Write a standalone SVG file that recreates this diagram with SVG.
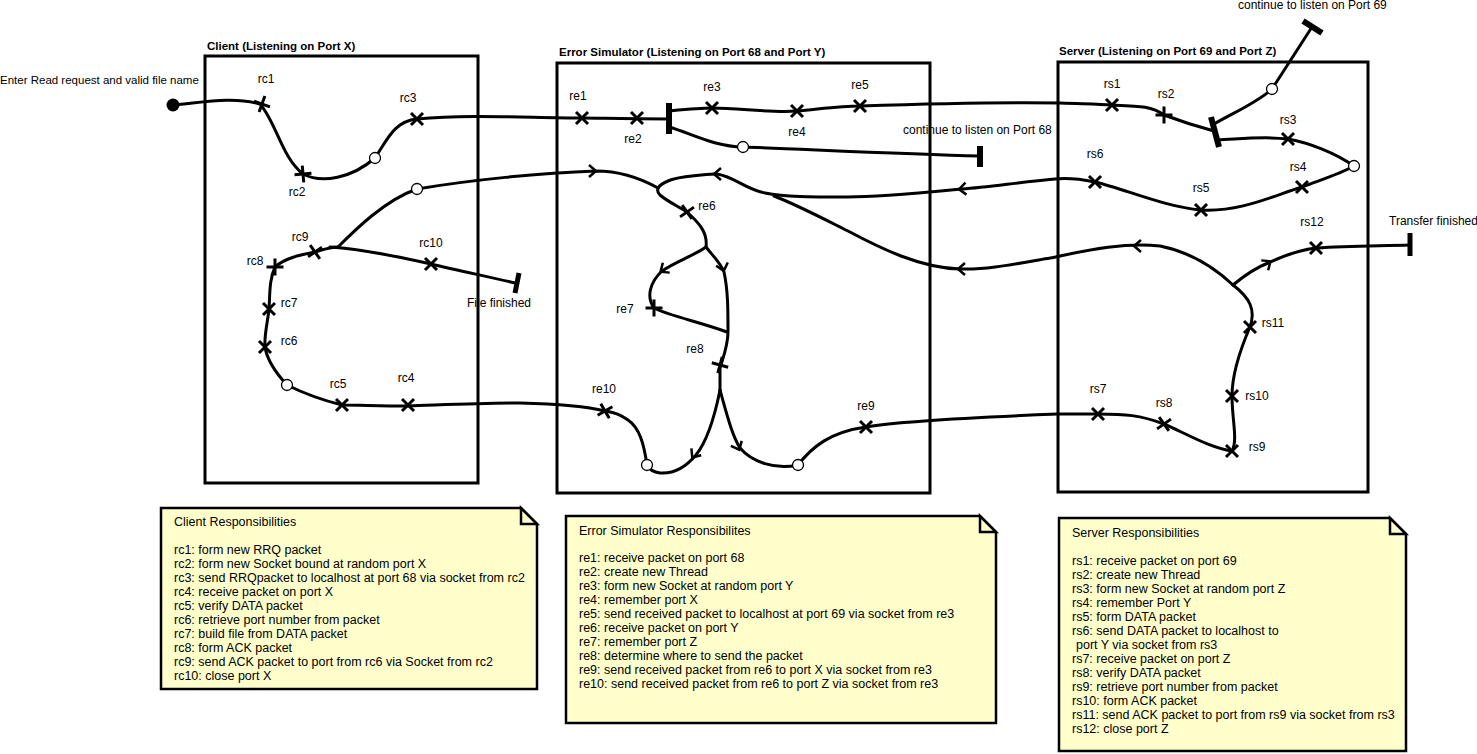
<svg xmlns="http://www.w3.org/2000/svg" width="1477" height="754" viewBox="0 0 1477 754">
<style>
.box{fill:none;stroke:#000;stroke-width:3}
.title{font-family:"Liberation Sans",Arial,sans-serif;font-weight:bold;font-size:11.5px;fill:#000}
.lbl{font-family:"Liberation Sans",Arial,sans-serif;font-size:12px;fill:#000}
.c{text-anchor:middle}
.note{fill:#ffffcc;stroke:#000;stroke-width:2.5}
.fold{fill:#ffffcc;stroke:#000;stroke-width:2.5}
.nt{font-family:"Liberation Sans",Arial,sans-serif;font-size:12.5px;fill:#000}
.ln{fill:none;stroke:#000;stroke-width:3;stroke-linecap:round;stroke-linejoin:round}
.mk{fill:none;stroke:#000;stroke-width:3}
.bar{stroke:#000;stroke-width:6}
.circ{fill:#fff;stroke:#000;stroke-width:1.3}
.arr{fill:none;stroke:#000;stroke-width:2.5}
</style>
<defs>
<path id="xm" d="M-6,-6L6,6M-6,6L6,-6"/>
<path id="ch" d="M-4,-6L3,0L-4,6"/>
</defs>

<g id="client">
<rect class="box" x="205" y="56" width="273" height="427"/>
<text class="title" x="207" y="50">Client (Listening on Port X)</text>
</g>
<g id="errorsim">
<rect class="box" x="557" y="63" width="373" height="430"/>
<text class="title" x="559" y="56">Error Simulator (Listening on Port 68 and Port Y)</text>
</g>
<g id="server">
<rect class="box" x="1058" y="62" width="310" height="430"/>
<text class="title" x="1059" y="55">Server (Listening on Port 69 and Port Z)</text>
</g>

<g id="connectors">
<path class="ln" d="M173,105 C200,103 232,96 260,104 C276,122 282,158 303,174 C322,184 352,178 375,158 C388,138 395,121 417,119 C470,114 530,118 582,118 C600,118 620,119 669,119"/>
<path class="ln" d="M669,111 C690,109 700,108 712,108 C740,108 770,113 797,111 C820,109 840,106 860,106 C920,104 1000,102 1060,103 C1090,104 1100,104 1112,105 C1140,106 1152,106 1164,115 C1180,121 1195,126 1214,131"/>
<path class="ln" d="M669,127 C690,133 715,147 743,147 C800,149 900,154 980,156"/>
<path class="ln" d="M1214,124 C1235,112 1258,102 1272,89 L1312,27"/>
<path class="ln" d="M1217,140 C1240,139 1265,136 1288,139 C1310,143 1335,153 1354,166 C1340,174 1320,180 1302,187 C1270,197 1240,212 1201,210 C1165,207 1125,189 1095,182 C1080,179 1065,178 1055,179 C1020,182 990,187 962,189 C930,192 880,197 848,197 C810,197 785,197 765,193 C745,189 735,177 717,174 C700,175 680,176 668,181 C658,185 655,190 660,195 C668,202 678,206 687,212 C698,222 708,232 706,247"/>
<path class="ln" d="M706,247 C712,255 720,262 724,272 C728,290 728,310 728,332 C728,345 724,355 720,368 L720,390"/>
<path class="ln" d="M706,247 C695,255 675,262 662,271 C650,282 646,297 654,308 C670,316 700,322 727,332"/>
<path class="ln" d="M720,390 C715,415 708,440 696,455 C685,468 672,474 660,473 C652,472 649,469 647,465 C644,445 640,428 628,420 C620,414 612,412 605,411 C585,406 560,404 520,403 C480,403 440,405 408,406 C380,406 360,405 342,405 C322,400 305,394 287,385 C275,372 267,360 265,347 C264,335 268,320 269,309 C270,295 269,280 275,267 C285,258 300,255 315,252 C322,250 330,247 338,247"/>
<path class="ln" d="M330,247 C360,249 400,257 431,264 C460,271 490,277 515,283"/>
<path class="ln" d="M338,247 C355,230 385,200 417,189 C470,180 540,173 596,171 C620,171 640,178 658,188"/>
<path class="ln" d="M720,390 C727,415 732,435 740,448 C752,462 775,470 798,465 C812,447 830,432 866,427 C900,421 980,417 1058,414 L1098,414 C1125,414 1140,415 1164,424 C1185,433 1210,448 1232,451 C1238,440 1232,420 1232,396 C1232,375 1240,350 1250,327 C1256,310 1250,298 1233,285"/>
<path class="ln" d="M1233,285 C1245,275 1255,268 1268,263 C1285,255 1300,250 1316,248 C1350,246 1380,246 1410,245"/>
<path class="ln" d="M1233,285 C1215,268 1190,252 1160,246 C1120,242 1080,252 1050,258 C1010,265 985,270 960,269 C920,268 880,248 848,231 C820,217 795,204 774,196"/>
<use href="#ch" class="arr" transform="translate(593,171)"/>
<use href="#ch" class="arr" transform="translate(717,174) rotate(180)"/>
<use href="#ch" class="arr" transform="translate(962,189) rotate(175)"/>
<use href="#ch" class="arr" transform="translate(961,269) rotate(180)"/>
<use href="#ch" class="arr" transform="translate(1137,246) rotate(180)"/>
<use href="#ch" class="arr" transform="translate(1268,263) rotate(-35)"/>
<use href="#ch" class="arr" transform="translate(663,270) rotate(145)"/>
<use href="#ch" class="arr" transform="translate(723,268) rotate(75)"/>
<use href="#ch" class="arr" transform="translate(694,455) rotate(125)"/>
<use href="#ch" class="arr" transform="translate(738,447) rotate(65)"/>
</g>

<g id="start"><circle cx="173" cy="105" r="6.5" fill="#000"/><text class="lbl" x="0" y="84" style="font-size:11.5px">Enter Read request and valid file name</text></g>
<g id="es-fork"><line class="bar" x1="669" y1="103" x2="669" y2="134"/></g>
<g id="es-end"><line class="bar" x1="980" y1="146" x2="980" y2="167"/><text class="lbl" x="903" y="134">continue to listen on Port 68</text></g>
<g id="server-fork"><line class="bar" x1="1211" y1="117" x2="1219" y2="147"/></g>
<g id="server-end69"><line class="bar" x1="1303" y1="21" x2="1322" y2="33"/><text class="lbl" x="1238" y="9">continue to listen on Port 69</text></g>
<g id="client-end"><line class="bar" x1="519" y1="273" x2="515" y2="293" style="stroke-width:5"/><text class="lbl c" x="499" y="307">File finished</text></g>
<g id="server-end"><line class="bar" x1="1410" y1="233" x2="1410" y2="256" style="stroke-width:5"/><text class="lbl" x="1389" y="225">Transfer finished</text></g>

<g id="merges">
<circle class="circ" cx="375" cy="158" r="5.5"/>
<circle class="circ" cx="743" cy="147" r="5.5"/>
<circle class="circ" cx="1272" cy="89" r="5.5"/>
<circle class="circ" cx="1354" cy="166" r="5.5"/>
<circle class="circ" cx="417" cy="189" r="5.5"/>
<circle class="circ" cx="287" cy="385" r="5.5"/>
<circle class="circ" cx="647" cy="465" r="5.5"/>
<circle class="circ" cx="798" cy="465" r="5.5"/>
</g>

<g id="rc1"><use href="#xm" class="mk" transform="translate(262,104) rotate(65)"/><text class="lbl c" x="266" y="83">rc1</text></g>
<g id="rc2"><use href="#xm" class="mk" transform="translate(303,174) rotate(40)"/><text class="lbl c" x="297" y="196">rc2</text></g>
<g id="rc3"><use href="#xm" class="mk" transform="translate(417,119)"/><text class="lbl c" x="408" y="102">rc3</text></g>
<g id="rc4"><use href="#xm" class="mk" transform="translate(408,405)"/><text class="lbl c" x="406" y="382">rc4</text></g>
<g id="rc5"><use href="#xm" class="mk" transform="translate(342,405)"/><text class="lbl c" x="338" y="388">rc5</text></g>
<g id="rc6"><use href="#xm" class="mk" transform="translate(265,347)"/><text class="lbl c" x="289" y="345">rc6</text></g>
<g id="rc7"><use href="#xm" class="mk" transform="translate(269,309)"/><text class="lbl c" x="289" y="307">rc7</text></g>
<g id="rc8"><use href="#xm" class="mk" transform="translate(275,267) rotate(45)"/><text class="lbl c" x="255" y="265">rc8</text></g>
<g id="rc9"><use href="#xm" class="mk" transform="translate(315,252) rotate(10)"/><text class="lbl c" x="300" y="241">rc9</text></g>
<g id="rc10"><use href="#xm" class="mk" transform="translate(431,264)"/><text class="lbl c" x="431" y="247">rc10</text></g>

<g id="re1"><use href="#xm" class="mk" transform="translate(582,118)"/><text class="lbl c" x="578" y="100">re1</text></g>
<g id="re2"><use href="#xm" class="mk" transform="translate(637,118)"/><text class="lbl c" x="633" y="143">re2</text></g>
<g id="re3"><use href="#xm" class="mk" transform="translate(712,108)"/><text class="lbl c" x="712" y="91">re3</text></g>
<g id="re4"><use href="#xm" class="mk" transform="translate(797,111)"/><text class="lbl c" x="797" y="136">re4</text></g>
<g id="re5"><use href="#xm" class="mk" transform="translate(860,106)"/><text class="lbl c" x="860" y="89">re5</text></g>
<g id="re6"><use href="#xm" class="mk" transform="translate(687,212) rotate(10)"/><text class="lbl c" x="707" y="210">re6</text></g>
<g id="re7"><use href="#xm" class="mk" transform="translate(654,308) rotate(45)"/><text class="lbl c" x="625" y="313">re7</text></g>
<g id="re8"><use href="#xm" class="mk" transform="translate(720,365) rotate(60)"/><text class="lbl c" x="695" y="353">re8</text></g>
<g id="re9"><use href="#xm" class="mk" transform="translate(866,427)"/><text class="lbl c" x="866" y="410">re9</text></g>
<g id="re10"><use href="#xm" class="mk" transform="translate(605,411) rotate(15)"/><text class="lbl c" x="604" y="393">re10</text></g>

<g id="rs1"><use href="#xm" class="mk" transform="translate(1112,105)"/><text class="lbl c" x="1112" y="88">rs1</text></g>
<g id="rs2"><use href="#xm" class="mk" transform="translate(1164,115) rotate(45)"/><text class="lbl c" x="1166" y="98">rs2</text></g>
<g id="rs3"><use href="#xm" class="mk" transform="translate(1288,139)"/><text class="lbl c" x="1288" y="124">rs3</text></g>
<g id="rs4"><use href="#xm" class="mk" transform="translate(1302,187)"/><text class="lbl c" x="1298" y="171">rs4</text></g>
<g id="rs5"><use href="#xm" class="mk" transform="translate(1201,210)"/><text class="lbl c" x="1201" y="192">rs5</text></g>
<g id="rs6"><use href="#xm" class="mk" transform="translate(1095,182)"/><text class="lbl c" x="1095" y="158">rs6</text></g>
<g id="rs7"><use href="#xm" class="mk" transform="translate(1098,414)"/><text class="lbl c" x="1098" y="393">rs7</text></g>
<g id="rs8"><use href="#xm" class="mk" transform="translate(1164,424) rotate(10)"/><text class="lbl c" x="1164" y="407">rs8</text></g>
<g id="rs9"><use href="#xm" class="mk" transform="translate(1232,451)"/><text class="lbl c" x="1257" y="451">rs9</text></g>
<g id="rs10"><use href="#xm" class="mk" transform="translate(1232,396)"/><text class="lbl c" x="1257" y="400">rs10</text></g>
<g id="rs11"><use href="#xm" class="mk" transform="translate(1250,327)"/><text class="lbl c" x="1273" y="327">rs11</text></g>
<g id="rs12"><use href="#xm" class="mk" transform="translate(1316,248)"/><text class="lbl c" x="1312" y="226">rs12</text></g>

<g id="note-client">
<path class="note" d="M161,508 H521 L537,524 V689 H161 Z"/>
<path class="fold" d="M521,508 V524 H537 Z"/>
<text class="nt" x="174" y="526">Client Responsibilities</text>
<text class="nt" x="174" y="553.5">
<tspan x="174" dy="0">rc1: form new RRQ packet</tspan>
<tspan x="174" dy="14">rc2: form new Socket bound at random port X</tspan>
<tspan x="174" dy="14">rc3: send RRQpacket to localhost at port 68 via socket from rc2</tspan>
<tspan x="174" dy="14">rc4: receive packet on port X</tspan>
<tspan x="174" dy="14">rc5: verify DATA packet</tspan>
<tspan x="174" dy="14">rc6: retrieve port number from packet</tspan>
<tspan x="174" dy="14">rc7: build file from DATA packet</tspan>
<tspan x="174" dy="14">rc8: form ACK packet</tspan>
<tspan x="174" dy="14">rc9: send ACK packet to port from rc6 via Socket from rc2</tspan>
<tspan x="174" dy="14">rc10: close port X</tspan>
</text>
</g>

<g id="note-errorsim">
<path class="note" d="M566,516 H980 L996,532 V723 H566 Z"/>
<path class="fold" d="M980,516 V532 H996 Z"/>
<text class="nt" x="579" y="534.5">Error Simulator Responsibilites</text>
<text class="nt" x="579" y="562">
<tspan x="579" dy="0">re1: receive packet on port 68</tspan>
<tspan x="579" dy="14">re2: create new Thread</tspan>
<tspan x="579" dy="14">re3: form new Socket at random port Y</tspan>
<tspan x="579" dy="14">re4: remember port X</tspan>
<tspan x="579" dy="14">re5: send received packet to localhost at port 69 via socket from re3</tspan>
<tspan x="579" dy="14">re6: receive packet on port Y</tspan>
<tspan x="579" dy="14">re7: remember port Z</tspan>
<tspan x="579" dy="14">re8: determine where to send the packet</tspan>
<tspan x="579" dy="14">re9: send received packet from re6 to port X via socket from re3</tspan>
<tspan x="579" dy="14">re10: send received packet from re6 to port Z via socket from re3</tspan>
</text>
</g>

<g id="note-server">
<path class="note" d="M1059,518 H1390 L1406,534 V751 H1059 Z"/>
<path class="fold" d="M1390,518 V534 H1406 Z"/>
<text class="nt" x="1072" y="537">Server Responsibilities</text>
<text class="nt" x="1072" y="564.5">
<tspan x="1072" dy="0">rs1: receive packet on port 69</tspan>
<tspan x="1072" dy="14">rs2: create new Thread</tspan>
<tspan x="1072" dy="14">rs3: form new Socket at random port Z</tspan>
<tspan x="1072" dy="14">rs4: remember Port Y</tspan>
<tspan x="1072" dy="14">rs5: form DATA packet</tspan>
<tspan x="1072" dy="14">rs6: send DATA packet to localhost to</tspan>
<tspan x="1076" dy="14">port Y via socket from rs3</tspan>
<tspan x="1072" dy="14">rs7: receive packet on port Z</tspan>
<tspan x="1072" dy="14">rs8: verify DATA packet</tspan>
<tspan x="1072" dy="14">rs9: retrieve port number from packet</tspan>
<tspan x="1072" dy="14">rs10: form ACK packet</tspan>
<tspan x="1072" dy="14">rs11: send ACK packet to port from rs9 via socket from rs3</tspan>
<tspan x="1072" dy="14">rs12: close port Z</tspan>
</text>
</g>
</svg>
